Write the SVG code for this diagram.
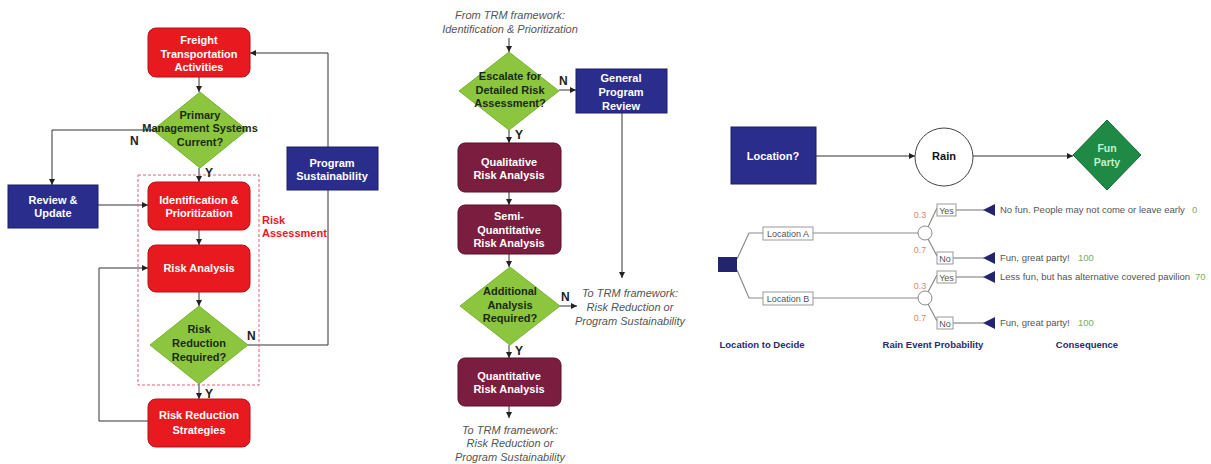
<svg xmlns="http://www.w3.org/2000/svg" width="1211" height="464" viewBox="0 0 1211 464">
  <defs>
    <marker id="arr" viewBox="0 0 10 10" refX="10" refY="5" markerWidth="6" markerHeight="6" orient="auto" markerUnits="userSpaceOnUse">
      <path d="M0,0 L10,5 L0,10 z" fill="#222"/>
    </marker>
    <style>
      text { font-family: "Liberation Sans", Arial, sans-serif; }
      .red { fill: #e8191f; stroke: #b51116; stroke-width: 1; }
      .grn { fill: #8cc63f; stroke: #7ab232; stroke-width: 1; }
      .navy { fill: #2b2d8c; stroke: #1e1f66; stroke-width: 1; }
      .mar { fill: #7a1d3e; stroke: #5a1029; stroke-width: 1; }
      .wt { fill: #ffffff; font-size: 11px; font-weight: bold; text-anchor: middle; }
      .dk { fill: #1b2a12; font-size: 11px; font-weight: bold; text-anchor: middle; }
      .yn { fill: #222; font-size: 12px; font-weight: bold; }
      .ital { fill: #555; font-size: 11px; font-style: italic; text-anchor: middle; }
      .ln { fill: none; stroke: #333; stroke-width: 1; }
      .tln { fill: none; stroke: #8a8a8a; stroke-width: 1.2; }
      .lbl { fill: #fff; stroke: #999; stroke-width: 1; }
      .sm { fill: #555; font-size: 9.5px; }
      .smc { fill: #555; font-size: 9px; text-anchor: middle; }
      .prob { fill: #e0876a; font-size: 9px; text-anchor: middle; }
      .val { fill: #7aae62; font-size: 9.5px; }
      .ax { fill: #2a2a70; font-size: 9.5px; font-weight: bold; text-anchor: middle; }
      .tri { fill: #23236e; }
    </style>
  </defs>

  <rect width="1211" height="464" fill="#ffffff"/>

  <!-- Connectors -->
  <g id="connectors">
    <!-- left flow -->
    <line class="ln" x1="199" y1="77" x2="199" y2="92" marker-end="url(#arr)"/>
    <polyline class="ln" points="153,130 52,130 52,185" marker-end="url(#arr)"/>
    <line class="ln" x1="199" y1="168" x2="199" y2="182" marker-end="url(#arr)"/>
    <line class="ln" x1="98" y1="205" x2="148" y2="205" marker-end="url(#arr)"/>
    <polyline class="ln" points="328,147 328,53 250,53" marker-end="url(#arr)"/>
    <line class="ln" x1="199" y1="230" x2="199" y2="245" marker-end="url(#arr)"/>
    <line class="ln" x1="199" y1="292" x2="199" y2="306" marker-end="url(#arr)"/>
    <polyline class="ln" points="248,345 328,345 328,190"/>
    <line class="ln" x1="199" y1="384" x2="199" y2="399" marker-end="url(#arr)"/>
    <polyline class="ln" points="148,421 99,421 99,268 148,268" marker-end="url(#arr)"/>

    <!-- middle flow -->
    <line class="ln" x1="509" y1="38" x2="509" y2="52" marker-end="url(#arr)"/>
    <line class="ln" x1="559" y1="90" x2="576" y2="90" marker-end="url(#arr)"/>
    <line class="ln" x1="622" y1="113" x2="622" y2="278" marker-end="url(#arr)"/>
    <line class="ln" x1="509" y1="130" x2="509" y2="143" marker-end="url(#arr)"/>
    <line class="ln" x1="509" y1="192" x2="509" y2="205" marker-end="url(#arr)"/>
    <line class="ln" x1="509" y1="254" x2="509" y2="267" marker-end="url(#arr)"/>
    <line class="ln" x1="560" y1="306" x2="577" y2="306" marker-end="url(#arr)"/>
    <line class="ln" x1="509" y1="345" x2="509" y2="358" marker-end="url(#arr)"/>
    <line class="ln" x1="509" y1="406" x2="509" y2="418" marker-end="url(#arr)"/>

    <!-- influence diagram -->
    <line class="ln" x1="816" y1="156" x2="915" y2="156" marker-end="url(#arr)"/>
    <line class="ln" x1="973" y1="156" x2="1073" y2="156" marker-end="url(#arr)"/>

    <!-- decision tree branches -->
    <polyline class="tln" points="737,259 749,233 763,233"/>
    <polyline class="tln" points="737,270 749,298 763,298"/>
    <line class="tln" x1="813" y1="233" x2="918" y2="233"/>
    <line class="tln" x1="813" y1="298" x2="918" y2="298"/>
    <line class="tln" x1="928" y1="227" x2="937" y2="208"/>
    <line class="tln" x1="928" y1="239" x2="937" y2="256"/>
    <line class="tln" x1="928" y1="292" x2="937" y2="275"/>
    <line class="tln" x1="928" y1="304" x2="937" y2="321"/>
    <line class="tln" x1="956" y1="210" x2="984" y2="210"/>
    <line class="tln" x1="953" y1="258" x2="984" y2="258"/>
    <line class="tln" x1="956" y1="277" x2="984" y2="277"/>
    <line class="tln" x1="953" y1="323" x2="984" y2="323"/>
  </g>

  <!-- Left flowchart -->
  <rect id="risk-assessment-frame" x="138" y="175" width="121" height="210" fill="none" stroke="#e0607a" stroke-width="1" stroke-dasharray="3,2"/>
  <text x="262" y="224" fill="#e8191f" font-size="11" font-weight="bold">Risk</text>
  <text x="262" y="237" fill="#e8191f" font-size="11" font-weight="bold">Assessment</text>

  <g id="freight">
    <rect class="red" x="148" y="28" width="102" height="49" rx="8"/>
    <text class="wt" x="199" y="44">Freight</text>
    <text class="wt" x="199" y="58">Transportation</text>
    <text class="wt" x="199" y="71">Activities</text>
  </g>
  <g id="primary-mgmt">
    <polygon class="grn" points="200,92 247,130 200,168 153,130"/>
    <text class="dk" x="200" y="119">Primary</text>
    <text class="dk" x="200" y="132">Management Systems</text>
    <text class="dk" x="200" y="146">Current?</text>
    <text class="yn" x="130" y="145">N</text>
    <text class="yn" x="205" y="177">Y</text>
  </g>
  <g id="review-update">
    <rect class="navy" x="8" y="185" width="90" height="43"/>
    <text class="wt" x="53" y="204">Review &amp;</text>
    <text class="wt" x="53" y="217">Update</text>
  </g>
  <g id="identification">
    <rect class="red" x="148" y="182" width="102" height="48" rx="8"/>
    <text class="wt" x="199" y="204">Identification &amp;</text>
    <text class="wt" x="199" y="217">Prioritization</text>
  </g>
  <g id="program-sustainability">
    <rect class="navy" x="287" y="147" width="91" height="43"/>
    <text class="wt" x="332" y="167">Program</text>
    <text class="wt" x="332" y="180">Sustainability</text>
  </g>
  <g id="risk-analysis">
    <rect class="red" x="148" y="245" width="102" height="47" rx="8"/>
    <text class="wt" x="199" y="272">Risk Analysis</text>
  </g>
  <g id="risk-reduction-required">
    <polygon class="grn" points="199,306 248,345 199,384 150,345"/>
    <text class="dk" x="199" y="333">Risk</text>
    <text class="dk" x="199" y="347">Reduction</text>
    <text class="dk" x="199" y="361">Required?</text>
    <text class="yn" x="247" y="340">N</text>
    <text class="yn" x="205" y="398">Y</text>
  </g>
  <g id="risk-reduction-strategies">
    <rect class="red" x="148" y="399" width="102" height="48" rx="8"/>
    <text class="wt" x="199" y="419">Risk Reduction</text>
    <text class="wt" x="199" y="434">Strategies</text>
  </g>

  <!-- Middle flowchart -->
  <g id="from-trm">
    <text class="ital" x="510" y="19">From TRM framework:</text>
    <text class="ital" x="510" y="33">Identification &amp; Prioritization</text>
  </g>
  <g id="escalate">
    <polygon class="grn" points="509,52 559,91 509,130 459,91"/>
    <text class="dk" x="510" y="80">Escalate for</text>
    <text class="dk" x="510" y="94">Detailed Risk</text>
    <text class="dk" x="510" y="107">Assessment?</text>
    <text class="yn" x="559" y="85">N</text>
    <text class="yn" x="515" y="139">Y</text>
  </g>
  <g id="general-review">
    <rect class="navy" x="576" y="69" width="91" height="44"/>
    <text class="wt" x="621" y="82">General</text>
    <text class="wt" x="621" y="96">Program</text>
    <text class="wt" x="621" y="110">Review</text>
  </g>
  <g id="qualitative">
    <rect class="mar" x="458" y="143" width="103" height="49" rx="7"/>
    <text class="wt" x="509" y="166">Qualitative</text>
    <text class="wt" x="509" y="179">Risk Analysis</text>
  </g>
  <g id="semi-quantitative">
    <rect class="mar" x="458" y="205" width="103" height="49" rx="7"/>
    <text class="wt" x="509" y="220">Semi-</text>
    <text class="wt" x="509" y="234">Quantitative</text>
    <text class="wt" x="509" y="247">Risk Analysis</text>
  </g>
  <g id="additional">
    <polygon class="grn" points="510,267 560,306 510,345 460,306"/>
    <text class="dk" x="510" y="295">Additional</text>
    <text class="dk" x="510" y="309">Analysis</text>
    <text class="dk" x="510" y="322">Required?</text>
    <text class="yn" x="561" y="301">N</text>
    <text class="yn" x="515" y="355">Y</text>
  </g>
  <g id="to-trm-right">
    <text class="ital" x="630" y="297">To TRM framework:</text>
    <text class="ital" x="630" y="311">Risk Reduction or</text>
    <text class="ital" x="630" y="325">Program Sustainability</text>
  </g>
  <g id="quantitative">
    <rect class="mar" x="458" y="358" width="103" height="48" rx="7"/>
    <text class="wt" x="509" y="380">Quantitative</text>
    <text class="wt" x="509" y="393">Risk Analysis</text>
  </g>
  <g id="to-trm-bottom">
    <text class="ital" x="510" y="434">To TRM framework:</text>
    <text class="ital" x="510" y="447">Risk Reduction or</text>
    <text class="ital" x="510" y="461">Program Sustainability</text>
  </g>

  <!-- Influence diagram -->
  <g id="location-decision">
    <rect class="navy" x="731" y="127" width="85" height="57"/>
    <text class="wt" x="773" y="160">Location?</text>
  </g>
  <g id="rain">
    <circle cx="944" cy="157" r="29" fill="#fff" stroke="#444" stroke-width="1"/>
    <text x="944" y="160" fill="#111" font-size="11" font-weight="bold" text-anchor="middle">Rain</text>
  </g>
  <g id="fun-party">
    <polygon points="1107,120 1141,155 1107,190 1073,155" fill="#1e8a45" stroke="#166b35" stroke-width="1"/>
    <text x="1107" y="152" fill="#c8f0c8" font-size="10.5" font-weight="bold" text-anchor="middle">Fun</text>
    <text x="1107" y="166" fill="#c8f0c8" font-size="10.5" font-weight="bold" text-anchor="middle">Party</text>
  </g>

  <!-- Decision tree -->
  <g id="tree-root">
    <rect x="718" y="257" width="19" height="15" fill="#23236e"/>
  </g>
  <g id="location-a">
    <rect class="lbl" x="763" y="227" width="50" height="13"/>
    <text class="smc" x="788" y="236.5">Location A</text>
    <circle cx="925" cy="233" r="7" fill="#fff" stroke="#888" stroke-width="1"/>
  </g>
  <g id="location-b">
    <rect class="lbl" x="763" y="292" width="50" height="13"/>
    <text class="smc" x="788" y="301.5">Location B</text>
    <circle cx="925" cy="298" r="7" fill="#fff" stroke="#888" stroke-width="1"/>
  </g>
  <g id="a-yes">
    <text class="prob" x="920" y="218">0.3</text>
    <rect class="lbl" x="937" y="204" width="19" height="12"/>
    <text class="smc" x="946.5" y="213.5">Yes</text>
    <polygon class="tri" points="983,210 995,204 995,216"/>
    <text class="sm" x="1000" y="213">No fun. People may not come or leave early</text>
    <text class="val" x="1192" y="213">0</text>
  </g>
  <g id="a-no">
    <text class="prob" x="920" y="253">0.7</text>
    <rect class="lbl" x="937" y="252" width="16" height="12"/>
    <text class="smc" x="945" y="261.5">No</text>
    <polygon class="tri" points="983,258 995,252 995,264"/>
    <text class="sm" x="1000" y="261">Fun, great party!</text>
    <text class="val" x="1078" y="261">100</text>
  </g>
  <g id="b-yes">
    <text class="prob" x="920" y="289">0.3</text>
    <rect class="lbl" x="937" y="271" width="19" height="12"/>
    <text class="smc" x="946.5" y="280.5">Yes</text>
    <polygon class="tri" points="983,277 995,271 995,283"/>
    <text class="sm" x="1000" y="280">Less fun, but has alternative covered pavilion</text>
    <text class="val" x="1195" y="280">70</text>
  </g>
  <g id="b-no">
    <text class="prob" x="920" y="321">0.7</text>
    <rect class="lbl" x="937" y="317" width="16" height="12"/>
    <text class="smc" x="945" y="326.5">No</text>
    <polygon class="tri" points="983,323 995,317 995,329"/>
    <text class="sm" x="1000" y="326">Fun, great party!</text>
    <text class="val" x="1078" y="326">100</text>
  </g>
  <g id="tree-axis">
    <text class="ax" x="762" y="348">Location to Decide</text>
    <text class="ax" x="933" y="348">Rain Event Probability</text>
    <text class="ax" x="1087" y="348">Consequence</text>
  </g>
</svg>
